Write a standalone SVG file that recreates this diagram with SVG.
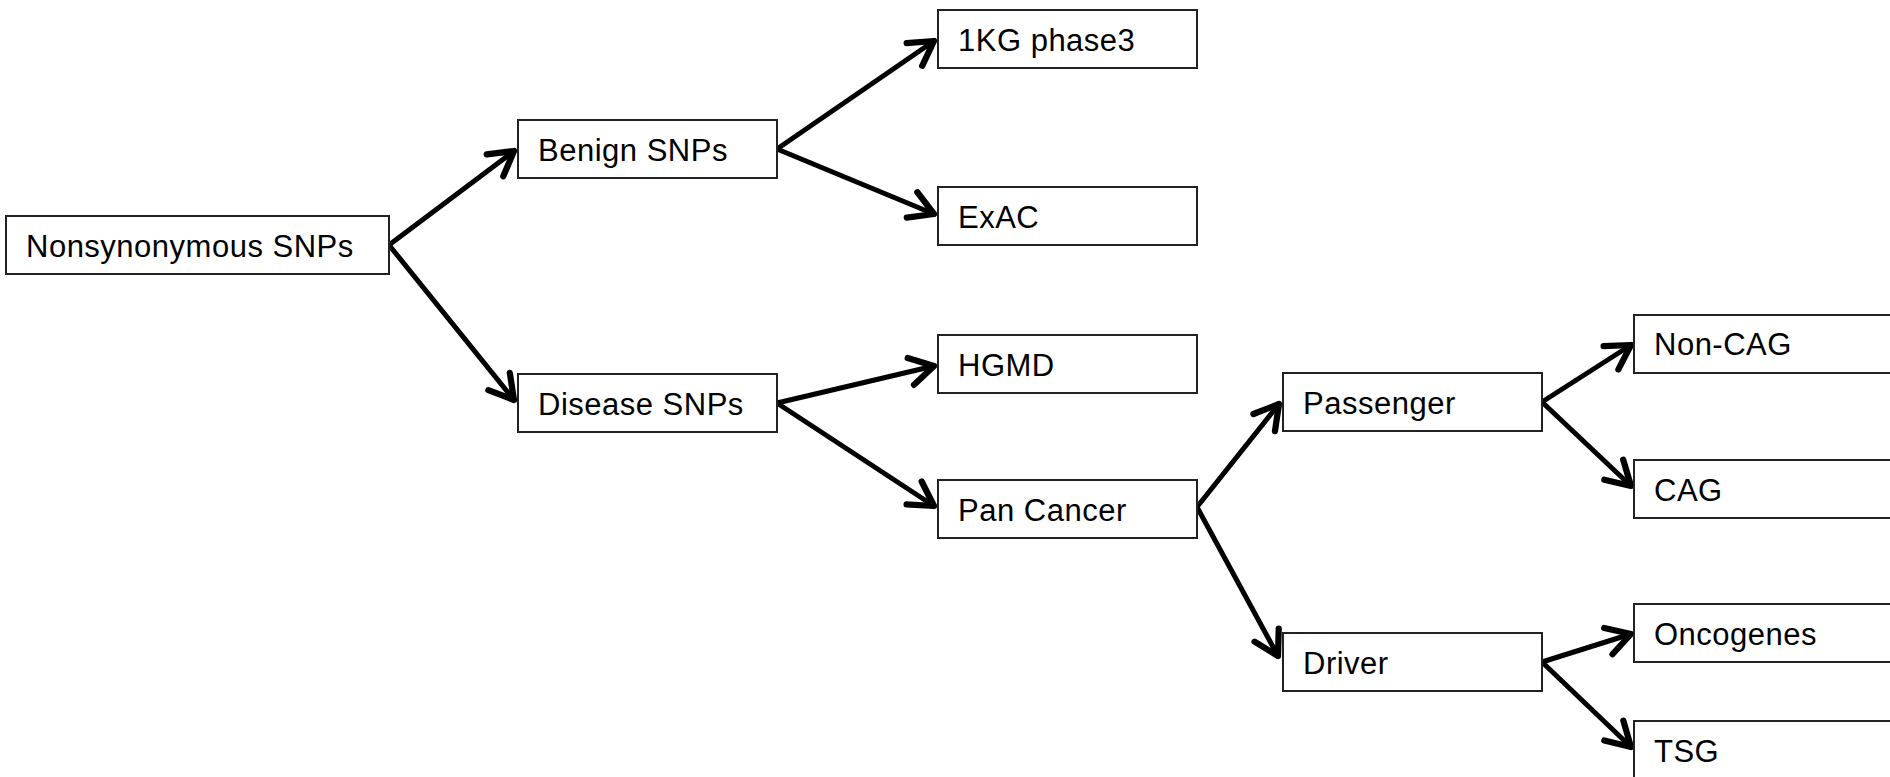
<svg xmlns="http://www.w3.org/2000/svg" width="1890" height="777" viewBox="0 0 1890 777">
<style>
.box{fill:#fff;stroke:#222;stroke-width:2}
.lbl{font-family:"Liberation Sans",Arial,sans-serif;font-size:31px;letter-spacing:0.5px;fill:#000}
.edge{fill:none;stroke:#000;stroke-width:5;stroke-linecap:round}
</style>
<defs>
<marker id="arr" markerUnits="userSpaceOnUse" markerWidth="40" markerHeight="40" refX="0" refY="0" viewBox="-26 -16 30 32" orient="auto" overflow="visible">
<path d="M-19,-11 L0,0 L-19,11" fill="none" stroke="#000" stroke-width="5" stroke-linecap="round" stroke-linejoin="round"/>
</marker>
</defs>
<rect width="1890" height="777" fill="#fff"/>
<g id="connectors">
<line class="edge" x1="389" y1="245" x2="514" y2="151" marker-end="url(#arr)"/>
<line class="edge" x1="389" y1="245" x2="514" y2="400" marker-end="url(#arr)"/>
<line class="edge" x1="777" y1="149" x2="934" y2="41" marker-end="url(#arr)"/>
<line class="edge" x1="777" y1="149" x2="934" y2="214" marker-end="url(#arr)"/>
<line class="edge" x1="777" y1="403" x2="934" y2="366" marker-end="url(#arr)"/>
<line class="edge" x1="777" y1="403" x2="934" y2="506" marker-end="url(#arr)"/>
<line class="edge" x1="1197" y1="507" x2="1279" y2="404" marker-end="url(#arr)"/>
<line class="edge" x1="1197" y1="507" x2="1278" y2="656" marker-end="url(#arr)"/>
<line class="edge" x1="1542" y1="402" x2="1631" y2="345" marker-end="url(#arr)"/>
<line class="edge" x1="1542" y1="402" x2="1631" y2="486" marker-end="url(#arr)"/>
<line class="edge" x1="1542" y1="662" x2="1631" y2="634" marker-end="url(#arr)"/>
<line class="edge" x1="1542" y1="662" x2="1631" y2="747" marker-end="url(#arr)"/>
</g>
<g id="n-nonsyn"><rect class="box" x="6" y="216" width="383" height="58"/><text class="lbl" x="26" y="257">Nonsynonymous SNPs</text></g>
<g id="n-benign"><rect class="box" x="518" y="120" width="259" height="58"/><text class="lbl" x="538" y="161">Benign SNPs</text></g>
<g id="n-disease"><rect class="box" x="518" y="374" width="259" height="58"/><text class="lbl" x="538" y="415">Disease SNPs</text></g>
<g id="n-1kg"><rect class="box" x="938" y="10" width="259" height="58"/><text class="lbl" x="958" y="51">1KG phase3</text></g>
<g id="n-exac"><rect class="box" x="938" y="187" width="259" height="58"/><text class="lbl" x="958" y="228">ExAC</text></g>
<g id="n-hgmd"><rect class="box" x="938" y="335" width="259" height="58"/><text class="lbl" x="958" y="376">HGMD</text></g>
<g id="n-pan"><rect class="box" x="938" y="480" width="259" height="58"/><text class="lbl" x="958" y="521">Pan Cancer</text></g>
<g id="n-passenger"><rect class="box" x="1283" y="373" width="259" height="58"/><text class="lbl" x="1303" y="414">Passenger</text></g>
<g id="n-driver"><rect class="box" x="1283" y="633" width="259" height="58"/><text class="lbl" x="1303" y="674">Driver</text></g>
<g id="n-noncag"><rect class="box" x="1634" y="315" width="259" height="58"/><text class="lbl" x="1654" y="355">Non-CAG</text></g>
<g id="n-cag"><rect class="box" x="1634" y="460" width="259" height="58"/><text class="lbl" x="1654" y="501">CAG</text></g>
<g id="n-onco"><rect class="box" x="1634" y="604" width="259" height="58"/><text class="lbl" x="1654" y="645">Oncogenes</text></g>
<g id="n-tsg"><rect class="box" x="1634" y="721" width="259" height="58"/><text class="lbl" x="1654" y="762">TSG</text></g>
</svg>
